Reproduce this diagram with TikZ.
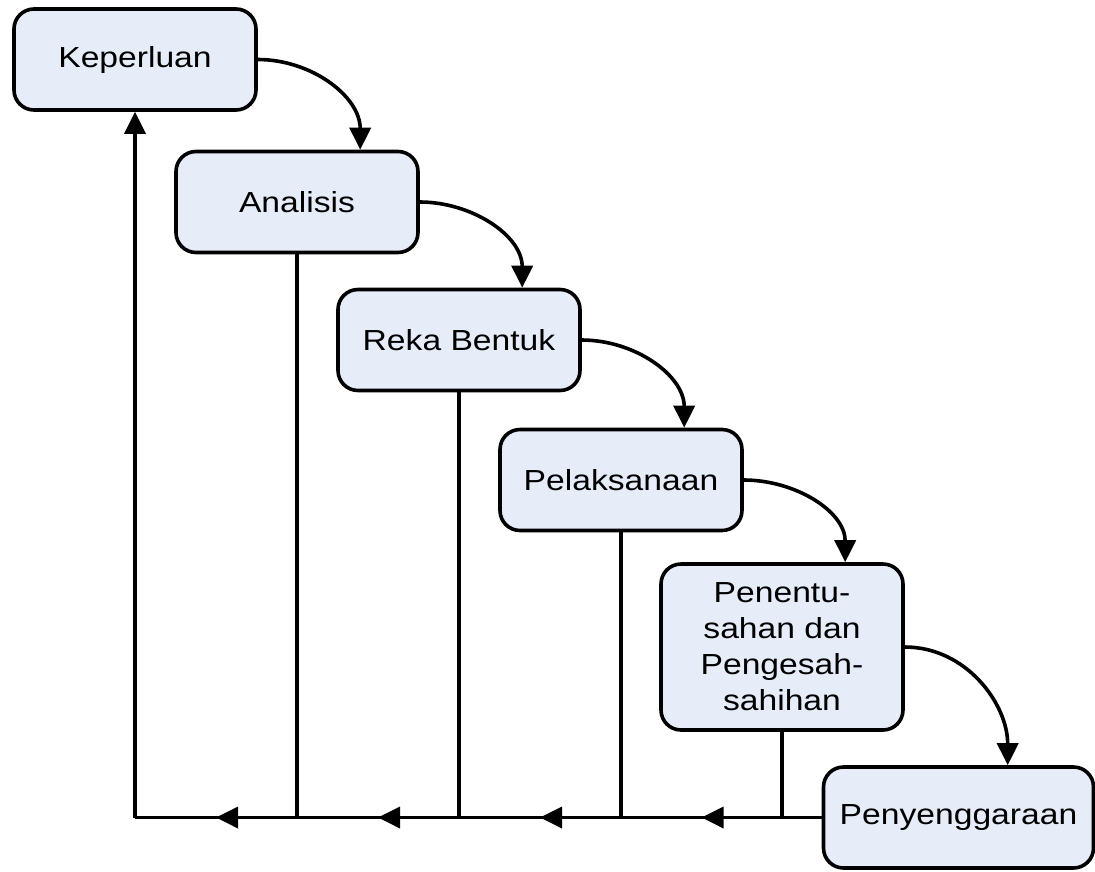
\documentclass[tikz,border=0pt]{standalone}
\usepackage{fontspec}
\setmainfont{Liberation Sans}[FakeStretch=1.16]
\usetikzlibrary{arrows.meta,decorations.markings,calc}
\definecolor{boxfill}{RGB}{230,236,248}
\begin{document}
\begin{tikzpicture}[x=1pt,y=-1pt,
  stage/.style={draw=black, line width=3.6pt, fill=boxfill, rounded corners=20pt,
    minimum width=242pt, minimum height=101pt, align=center,
    font=\fontsize{29}{36}\selectfont, inner sep=0pt},
  conn/.style={line width=3.6pt},
  tip/.style={-{Triangle[length=22pt,width=21pt]}},
  midtip/.style={postaction={decorate}, decoration={markings,
    mark=at position 0.5 with {\arrow{Triangle[length=22pt,width=21pt]}}}}
]
\useasboundingbox (0,0) rectangle (1095,871);

\node[stage] (K) at (135,59.5) {Keperluan};
\node[stage] (A) at (297,202) {Analisis};
\node[stage] (R) at (459,340) {Reka Bentuk};
\node[stage] (P) at (621,480) {Pelaksanaan};
\node[stage, minimum height=166pt] (V) at (782,647) {Penentu-\\sahan dan\\Pengesah-\\sahihan};
\node[stage, minimum width=270pt] (M) at (958.5,817.5) {Penyenggaraan};

% curved forward arrows
\draw[conn,tip] (K.east) to[out=0,in=90] ($(A.north west)+(186,0)$);
\draw[conn,tip] (A.east) to[out=0,in=90] ($(R.north west)+(186,0)$);
\draw[conn,tip] (R.east) to[out=0,in=90] ($(P.north west)+(186,0)$);
\draw[conn,tip] (P.east) to[out=0,in=90] ($(V.north west)+(186,0)$);
\draw[conn,tip] (V.east) to[out=0,in=90] ($(M.north west)+(186,0)$);

% feedback line
\coordinate (jK) at (K.south |- M.west);
\coordinate (jA) at (A.south |- M.west);
\coordinate (jR) at (R.south |- M.west);
\coordinate (jP) at (P.south |- M.west);
\coordinate (jV) at (V.south |- M.west);

\draw[conn] (A.south) -- (jA);
\draw[conn] (R.south) -- (jR);
\draw[conn] (P.south) -- (jP);
\draw[conn] (V.south) -- (jV);

\draw[conn] (M.west) -- (jV);
\draw[conn,midtip] (jV) -- (jP);
\draw[conn,midtip] (jP) -- (jR);
\draw[conn,midtip] (jR) -- (jA);
\draw[conn,midtip] (jA) -- (jK);
\draw[conn,tip] (jK) -- (K.south);
\end{tikzpicture}
\end{document}
